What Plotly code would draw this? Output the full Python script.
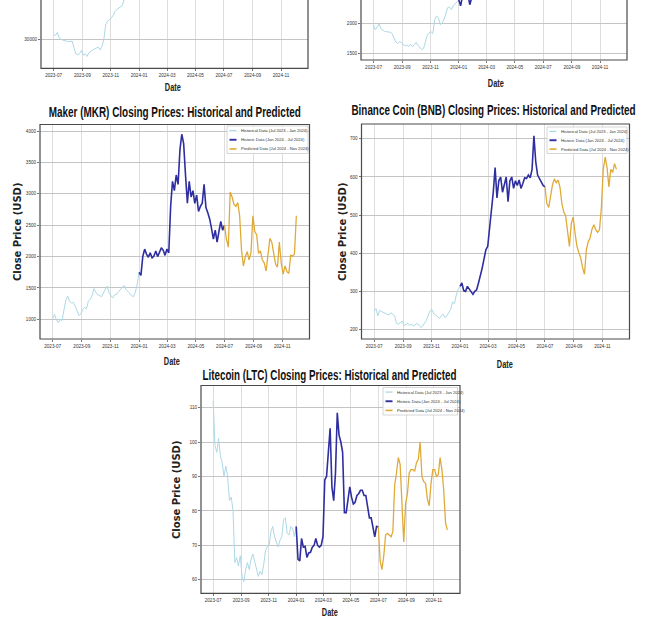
import json
import pandas as pd
import plotly.graph_objects as go

W, H = 651, 621

# ---------------- data ----------------
HIST_RANGE = ("2023-07-01", "2024-01-01")
HISTORIC_RANGE = ("2024-01-01", "2024-07-01")
PRED_RANGE = ("2024-07-01", "2024-12-01")

btc_hist = [31000, 30900, 31600, 30300, 29900, 29800, 29600, 29450, 29300, 29400, 29500, 27800,
            26300, 26100, 26400, 27200, 26000, 26300, 25700, 26600, 27000, 27250, 27500, 27700,
            28000, 27300, 28200, 29800, 33500, 34400, 34700, 35200, 35800, 36800, 37300, 37600,
            37900, 38300, 40000, 41800, 43500, 42500, 42200, 43500, 43000, 42600, 42300]

eth_hist = [1970, 1890, 1940, 1990, 1910, 1880, 1865, 1860, 1860, 1850, 1830, 1770, 1690, 1665,
            1690, 1680, 1640, 1620, 1640, 1610, 1650, 1610, 1640, 1680, 1630, 1590, 1560, 1580,
            1690, 1800, 1840, 1860, 1830, 2060, 2120, 2090, 1980, 2000, 2060, 2180, 2260, 2270,
            2230, 2290, 2330, 2360, 2390]
eth_historic = [2390, 2290, 2450, 2560, 2520, 2480, 2310, 2420, 2450, 2480, 2600, 2750, 2900,
                3000, 3300, 3500, 3800, 3900, 3600, 3500, 3400, 3300, 3200, 3100, 3000, 3150,
                3050, 3100, 2950, 3000, 3150, 3700, 3800, 3750, 3700, 3800, 3650, 3550, 3500,
                3600, 3650, 3500, 3450, 3400, 3350, 3400, 3450]

mkr_hist = [1020, 1080, 990, 950, 1000, 980, 1150, 1300, 1370, 1290, 1260, 1270, 1210, 1140,
            1060, 1090, 1160, 1190, 1170, 1290, 1320, 1380, 1490, 1430, 1390, 1380, 1360, 1420,
            1470, 1530, 1420, 1370, 1340, 1390, 1400, 1440, 1470, 1500, 1540, 1480, 1440, 1410,
            1380, 1360, 1430, 1560, 1750]
mkr_historic = [1750, 1700, 2000, 2120, 2040, 1990, 2060, 1980, 2010, 2090, 2000, 2060, 2140,
                2100, 2020, 2120, 2060, 2800, 3200, 3050, 3300, 3150, 3700, 3950, 3800, 3300,
                2850, 3200, 2950, 3050, 2850, 2980, 2720, 2800, 2850, 3150, 2780, 2700, 2600,
                2450, 2280, 2420, 2230, 2400, 2560, 2420, 2500]
mkr_pred = [2500, 2280, 2150, 3030, 2950, 2830, 2800, 2860, 2650, 2100, 1850, 2000, 2080, 1950,
            2060, 2650, 2400, 2350, 2050, 2090, 1950, 1900, 1770, 2030, 2290, 2230, 2080, 1880,
            1830, 2230, 1900, 1720, 1850, 1760, 1730, 2020, 2010, 2040, 2650]

bnb_hist = [248, 255, 236, 250, 247, 244, 242, 240, 238, 244, 240, 235, 216, 214, 218, 222, 210,
            213, 216, 211, 214, 209, 213, 216, 211, 205, 209, 215, 224, 238, 249, 252, 241, 238,
            232, 229, 236, 240, 231, 236, 245, 253, 272, 268, 290, 305, 313]
bnb_historic = [313, 322, 302, 300, 313, 305, 298, 292, 300, 304, 322, 340, 361, 385, 409, 418,
                460, 505, 560, 625, 545, 590, 600, 560, 580, 600, 535, 590, 600, 570, 590, 578,
                592, 570, 583, 598, 596, 605, 598, 620, 708, 640, 605, 595, 585, 578, 574]
bnb_pred = [574, 530, 520, 555, 580, 595, 585, 592, 572, 530, 508, 498, 460, 418, 478, 495, 452,
            418, 402, 388, 362, 345, 409, 430, 440, 463, 475, 462, 455, 462, 520, 620, 652, 625,
            574, 620, 612, 635, 620]

ltc_hist = [112, 99, 97, 101, 96, 94, 90, 93, 90, 83, 84, 80, 65, 66.5, 64, 67, 61, 59.5, 63, 65,
            63, 66, 67.5, 65, 62.5, 61, 62.5, 61.5, 64.5, 68.5, 69.7, 70, 74, 75.5, 72.5, 71, 69.5,
            71.5, 72.5, 77.5, 78, 73.5, 73, 75.5, 75, 72.5, 75.5]
ltc_historic = [75.5, 66, 65.5, 72, 69.5, 69.7, 66.5, 67.8, 68, 69.5, 70, 72, 70, 69.5, 70, 72.5,
                89, 90, 97, 104, 87, 83, 91, 108.5, 102, 100, 97, 79.5, 79.5, 83.5, 87, 84, 82,
                82.5, 84.5, 85, 86, 86, 84.5, 84.5, 81, 78, 78, 75.5, 72.5, 75.5, 75.4]
ltc_pred = [75.4, 65.5, 63, 67, 73, 73.5, 73, 72.5, 74, 87.5, 91, 95.5, 93.5, 84, 71, 82, 85, 91,
            92, 92, 91.5, 94, 95, 100, 90, 88.5, 88, 83.5, 81.5, 88, 92, 92, 90, 90.5, 95.5, 92,
            86, 76.5, 74.5]

LEGEND_LABELS = ["Historical Data (Jul 2023 - Jan 2024)",
                 "Historic Data (Jan 2024 - Jul 2024)",
                 "Predicted Data (Jul 2024 - Nov 2024)"]
COLORS = ["#add8e6", "#2e2ea0", "#e0aa38"]
WIDTHS = [1.0, 1.6, 1.3]

X_RANGE = ["2023-06-04", "2024-12-29"]

# panel geometry (pixels): left, right, top, bottom
panels = [
    dict(name="btc", L=41, R=308, T=-40, B=68.3, yr=[22750, 39650], ticks=[30000, 40000],
         series=[btc_hist, None, None], datepos=(173, 88)),
    dict(name="eth", L=361, R=627, T=-40, B=60, yr=[1388, 2388], ticks=[1500, 2000, 2500],
         series=[eth_hist, eth_historic, None], datepos=(496, 83)),
    dict(name="mkr", L=40, R=309.5, T=124.5, B=339, yr=[687, 4105],
         ticks=[1000, 1500, 2000, 2500, 3000, 3500, 4000],
         series=[mkr_hist, mkr_historic, mkr_pred],
         title="Maker (MKR) Closing Prices: Historical and Predicted", tpos=(175, 111.5), tw=252,
         datepos=(172, 361), ypos=(17, 232), leg=(227, 308, 126, 153.5)),
    dict(name="bnb", L=361.5, R=629.5, T=124, B=339, yr=[175, 739],
         ticks=[200, 300, 400, 500, 600, 700],
         series=[bnb_hist, bnb_historic, bnb_pred],
         title="Binance Coin (BNB) Closing Prices: Historical and Predicted", tpos=(493, 110),
         tw=284, datepos=(505, 365), ypos=(342, 231), leg=(547, 627, 127, 153.5)),
    dict(name="ltc", L=201, R=460, T=385.5, B=593.3, yr=[56.1, 116.4],
         ticks=[60, 70, 80, 90, 100, 110],
         series=[ltc_hist, ltc_historic, ltc_pred],
         title="Litecoin (LTC) Closing Prices: Historical and Predicted", tpos=(329, 375),
         tw=254, datepos=(330, 612), ypos=(177, 490), leg=(383, 457.5, 387.5, 415)),
]

SEG_RANGES = [HIST_RANGE, HISTORIC_RANGE, PRED_RANGE]


def px(x):
    return x / W


def py(y):
    return 1 - y / H


SANS = "Liberation Sans, Arial, sans-serif"

fig = go.Figure()
layout = dict(width=W, height=H, margin=dict(l=0, r=0, t=0, b=0),
              paper_bgcolor="white", plot_bgcolor="white", showlegend=False)
shapes, annotations = [], []
text_widths = {"Date": 16}

for i, p in enumerate(panels):
    sfx = "" if i == 0 else str(i + 1)
    xa, ya = "x" + sfx, "y" + sfx
    for k, vals in enumerate(p["series"]):
        if vals is None:
            continue
        d0, d1 = SEG_RANGES[k]
        dates = pd.date_range(d0, d1, periods=len(vals))
        fig.add_trace(go.Scatter(x=dates, y=vals, mode="lines", xaxis=xa, yaxis=ya,
                                 line=dict(color=COLORS[k], width=WIDTHS[k]),
                                 name=LEGEND_LABELS[k], hoverinfo="skip"))
    ytop = min(1.0, py(p["T"]))
    layout["xaxis" + sfx] = dict(domain=[px(p["L"]), px(p["R"])], anchor=ya, type="date",
                                 range=X_RANGE, tick0="2023-07-01", dtick="M2",
                                 tickformat="%Y-%m", showgrid=True, gridcolor="#dddddd",
                                 gridwidth=1, ticks="outside", ticklen=2, tickwidth=0.8,
                                 tickcolor="#555", zeroline=False, showline=False,
                                 tickfont=dict(family=SANS, size=4.6, color="#333"))
    layout["yaxis" + sfx] = dict(domain=[py(p["B"]), ytop], anchor=xa, range=p["yr"],
                                 tickvals=p["ticks"], tickformat="d", showgrid=True,
                                 gridcolor="#c4c4c4", gridwidth=1, ticks="outside", ticklen=2,
                                 tickwidth=0.8, tickcolor="#555", zeroline=False,
                                 showline=False,
                                 tickfont=dict(family=SANS, size=4.6, color="#333"))
    shapes.append(dict(type="rect", xref="paper", yref="paper", x0=px(p["L"]), x1=px(p["R"]),
                       y0=py(p["B"]), y1=py(p["T"]), line=dict(color="#4a4a4a", width=1.2),
                       fillcolor="rgba(0,0,0,0)", layer="above"))
    annotations.append(dict(text="Date", xref="paper", yref="paper",
                            x=px(p["datepos"][0]), y=py(p["datepos"][1]), showarrow=False,
                            xanchor="center", yanchor="middle",
                            font=dict(family=SANS, size=10, color="#222", weight="bold")))
    if "title" in p:
        text_widths[p["title"]] = p["tw"]
        annotations.append(dict(text=p["title"], xref="paper", yref="paper",
                                x=px(p["tpos"][0]), y=py(p["tpos"][1]), showarrow=False,
                                xanchor="center", yanchor="middle",
                                font=dict(family=SANS, size=14, color="#111", weight="bold")))
        annotations.append(dict(text="Close Price (USD)", xref="paper", yref="paper",
                                x=px(p["ypos"][0]), y=py(p["ypos"][1]), showarrow=False,
                                textangle=-90, xanchor="center", yanchor="middle",
                                font=dict(family="DejaVu Sans, sans-serif", size=10,
                                          color="#222", weight="bold")))
        # legend box drawn manually
        l0, l1, t0, t1 = p["leg"]
        shapes.append(dict(type="rect", xref="paper", yref="paper", x0=px(l0), x1=px(l1),
                           y0=py(t1), y1=py(t0), line=dict(color="#cccccc", width=0.8),
                           fillcolor="rgba(255,255,255,0.85)", layer="above"))
        step = (t1 - t0) / 3.0
        for k in range(3):
            yy = t0 + step * (k + 0.5)
            shapes.append(dict(type="line", xref="paper", yref="paper", x0=px(l0 + 2.5),
                               x1=px(l0 + 9.5), y0=py(yy), y1=py(yy),
                               line=dict(color=COLORS[k], width=WIDTHS[k] + 0.3),
                               layer="above"))
            annotations.append(dict(text=LEGEND_LABELS[k], xref="paper", yref="paper",
                                    x=px(l0 + 12), y=py(yy), showarrow=False,
                                    xanchor="left", yanchor="middle",
                                    font=dict(family=SANS, size=4.1, color="#333")))

layout["shapes"] = shapes
layout["annotations"] = annotations
fig.update_layout(**layout)

post = """
document.body.style.margin = '0';
var gd = document.getElementById('{plot_id}');
var TW = %s;
function squeeze() {
  var ts = gd.querySelectorAll('text.annotation-text');
  for (var i = 0; i < ts.length; i++) {
    var t = ts[i];
    var w = TW[t.textContent];
    if (w !== undefined) {
      t.setAttribute('textLength', w);
      t.setAttribute('lengthAdjust', 'spacingAndGlyphs');
    }
  }
}
squeeze();
if (gd.on) { gd.on('plotly_afterplot', squeeze); }
""" % json.dumps(text_widths)

fig.write_html("out.html", post_script=post,
               config={"displayModeBar": False, "staticPlot": True})
